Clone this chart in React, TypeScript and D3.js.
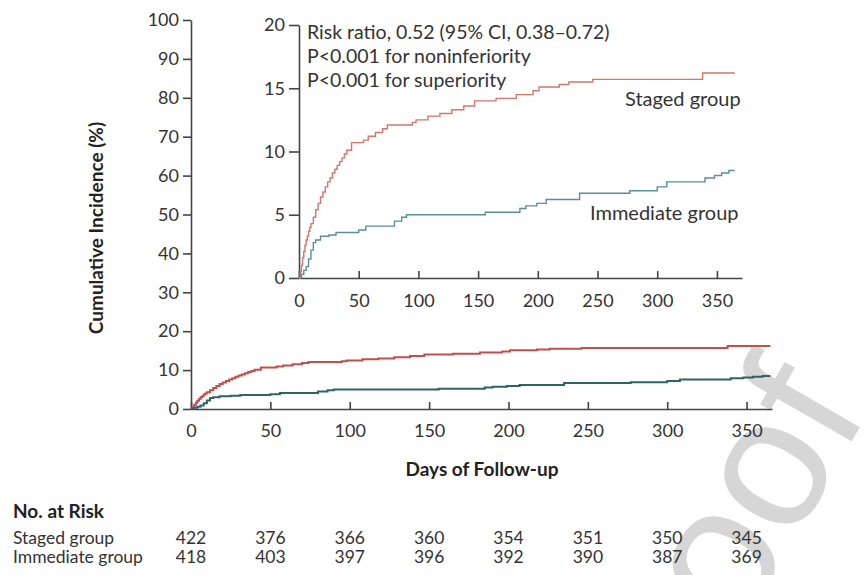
import React, { useEffect, useRef } from 'react';
import * as d3 from 'd3';

// Cumulative incidence (%) step points
const stagedDays = [0, 1, 2, 3, 4, 5, 6, 7, 8, 9, 10, 12, 14, 16, 18, 20, 22, 24, 26, 28, 30, 32, 34, 36, 38, 40, 44, 54, 58, 64, 70, 74, 95, 98, 108, 118, 128, 138, 147, 165, 182, 196, 201, 218, 226, 246, 338, 365];
const stagedPct = [0, 0.5, 1.0, 1.6, 2.1, 2.6, 3.0, 3.3, 3.7, 4.0, 4.3, 4.8, 5.4, 5.9, 6.4, 6.8, 7.2, 7.6, 7.9, 8.3, 8.6, 8.9, 9.2, 9.5, 9.8, 10.1, 10.7, 10.9, 11.2, 11.5, 11.8, 12.1, 12.3, 12.5, 12.8, 13.0, 13.3, 13.6, 14.0, 14.2, 14.5, 14.8, 15.1, 15.3, 15.5, 15.7, 16.2, 16.2];

const immediateDays = [0, 2, 4, 6, 8, 10, 12, 14, 18, 25, 31, 50, 56, 80, 86, 90, 156, 185, 190, 199, 207, 235, 277, 300, 308, 340, 348, 354, 360, 365];
const immediatePct = [0, 0.3, 0.6, 0.9, 1.5, 2.2, 2.8, 3.0, 3.3, 3.4, 3.6, 3.8, 4.1, 4.5, 4.8, 5.0, 5.2, 5.5, 5.7, 5.9, 6.2, 6.7, 6.9, 7.2, 7.6, 7.9, 8.1, 8.3, 8.5, 8.5];

// Axis ticks
const dayTicks = [0, 50, 100, 150, 200, 250, 300, 350];
const mainPctTicks = [0, 10, 20, 30, 40, 50, 60, 70, 80, 90, 100];
const insetPctTicks = [0, 5, 10, 15, 20];

// Number at risk table
const riskGroups = ['Staged group', 'Immediate group'];
const stagedAtRisk = [422, 376, 366, 360, 354, 351, 350, 345];
const immediateAtRisk = [418, 403, 397, 396, 392, 390, 387, 369];

const annotation = [
  'Risk ratio, 0.52 (95% CI, 0.38\u20130.72)',
  'P<0.001 for noninferiority',
  'P<0.001 for superiority',
];

const FONT = 'Lato, "Open Sans", sans-serif';
const AXIS = '#444';
const TEXT = '#333';
const RED = '#c0504d';
const BLUE = '#32606c';
const RED_LIGHT = '#d4766c';
const BLUE_LIGHT = '#5b8d9b';

const App = () => {
  const ref = useRef<SVGSVGElement | null>(null);

  useEffect(() => {
    const svg = d3.select(ref.current);
    svg.selectAll('*').remove();

    const staged = stagedDays.map((d, i) => ({ day: d, pct: stagedPct[i] }));
    const immediate = immediateDays.map((d, i) => ({ day: d, pct: immediatePct[i] }));

    // watermark, kept behind the chart so labels stay readable
    svg.append('text')
      .attr('transform', 'translate(648,794) rotate(-60)')
      .attr('fill', '#d6d6d6')
      .style('font-family', '"Liberation Sans", Arial, sans-serif')
      .style('font-size', '185px')
      .text('Proof');

    // main panel scales
    const x = d3.scaleLinear().domain([0, 366]).range([191, 772]);
    const y = d3.scaleLinear().domain([0, 100]).range([409, 20]);

    // inset scales
    const xi = d3.scaleLinear().domain([0, 371]).range([299, 742]);
    const yi = d3.scaleLinear().domain([0, 20]).range([278, 25]);

    const styleAxis = (g: any, size: number) => {
      g.select('.domain').attr('stroke', AXIS).attr('stroke-width', 1.6);
      g.selectAll('.tick line').attr('stroke', AXIS).attr('stroke-width', 1.6);
      g.selectAll('.tick text')
        .attr('fill', TEXT)
        .style('font-family', FONT)
        .style('font-size', size + 'px');
    };

    // main axes
    svg.append('g')
      .attr('transform', `translate(${x(0)},0)`)
      .call(d3.axisLeft(y).tickValues(mainPctTicks).tickSizeInner(8).tickSizeOuter(0).tickPadding(4))
      .call((g: any) => styleAxis(g, 18));

    svg.append('g')
      .attr('transform', `translate(0,${y(0)})`)
      .call(d3.axisBottom(x).tickValues(dayTicks).tickSizeInner(-7).tickSizeOuter(0).tickPadding(15))
      .call((g: any) => styleAxis(g, 18));

    const line = (sx: any, sy: any) => d3.line<any>()
      .x(d => sx(d.day))
      .y(d => sy(d.pct))
      .curve(d3.curveStepAfter);

    svg.append('path').datum(staged)
      .attr('d', line(x, y)).attr('fill', 'none')
      .attr('stroke', RED).attr('stroke-width', 2);
    svg.append('path').datum(immediate)
      .attr('d', line(x, y)).attr('fill', 'none')
      .attr('stroke', BLUE).attr('stroke-width', 2);

    // inset
    svg.append('g')
      .attr('transform', `translate(${xi(0)},0)`)
      .call(d3.axisLeft(yi).tickValues(insetPctTicks).tickSizeInner(10).tickSizeOuter(0).tickPadding(4))
      .call((g: any) => styleAxis(g, 18));

    svg.append('g')
      .attr('transform', `translate(0,${yi(0)})`)
      .call(d3.axisBottom(xi).tickValues(dayTicks).tickSizeInner(-7).tickSizeOuter(0).tickPadding(16))
      .call((g: any) => styleAxis(g, 18));

    svg.append('path').datum(staged)
      .attr('d', line(xi, yi)).attr('fill', 'none')
      .attr('stroke', RED_LIGHT).attr('stroke-width', 1.4);
    svg.append('path').datum(immediate)
      .attr('d', line(xi, yi)).attr('fill', 'none')
      .attr('stroke', BLUE_LIGHT).attr('stroke-width', 1.4);

    svg.selectAll('.note')
      .data(annotation)
      .enter()
      .append('text')
      .attr('x', 307)
      .attr('y', (d, i) => 39 + i * 24)
      .attr('fill', TEXT)
      .style('font-family', FONT)
      .style('font-size', '19.5px')
      .text(d => d);

    svg.append('text')
      .attr('x', 625).attr('y', 106)
      .attr('fill', TEXT).style('font-family', FONT).style('font-size', '20px')
      .text('Staged group');
    svg.append('text')
      .attr('x', 590).attr('y', 220)
      .attr('fill', TEXT).style('font-family', FONT).style('font-size', '20px')
      .text('Immediate group');

    // axis titles
    svg.append('text')
      .attr('transform', 'translate(103,228) rotate(-90)')
      .attr('text-anchor', 'middle')
      .attr('fill', '#222')
      .style('font-family', FONT).style('font-size', '19px').style('font-weight', 'bold')
      .text('Cumulative Incidence (%)');

    svg.append('text')
      .attr('x', 482).attr('y', 476)
      .attr('text-anchor', 'middle')
      .attr('fill', '#222')
      .style('font-family', FONT).style('font-size', '19px').style('font-weight', 'bold')
      .text('Days of Follow-up');

    // number at risk
    svg.append('text')
      .attr('x', 13).attr('y', 518)
      .attr('fill', '#222')
      .style('font-family', FONT).style('font-size', '19px').style('font-weight', 'bold')
      .text('No. at Risk');

    const rows = [stagedAtRisk, immediateAtRisk];
    rows.forEach((vals, r) => {
      const rowY = 544 + r * 19;
      svg.append('text')
        .attr('x', 13).attr('y', rowY)
        .attr('fill', TEXT).style('font-family', FONT).style('font-size', '17.5px')
        .text(riskGroups[r]);
      svg.selectAll('.risk' + r)
        .data(vals)
        .enter()
        .append('text')
        .attr('x', (d, i) => x(dayTicks[i]))
        .attr('y', rowY)
        .attr('text-anchor', 'middle')
        .attr('fill', TEXT)
        .style('font-family', FONT)
        .style('font-size', '17.5px')
        .text(d => d);
    });
  }, []);

  return (
    <svg
      ref={ref}
      width={868}
      height={575}
      style={{ position: 'absolute', left: 0, top: 0, background: '#fff' }}
    />
  );
};

export default App;
